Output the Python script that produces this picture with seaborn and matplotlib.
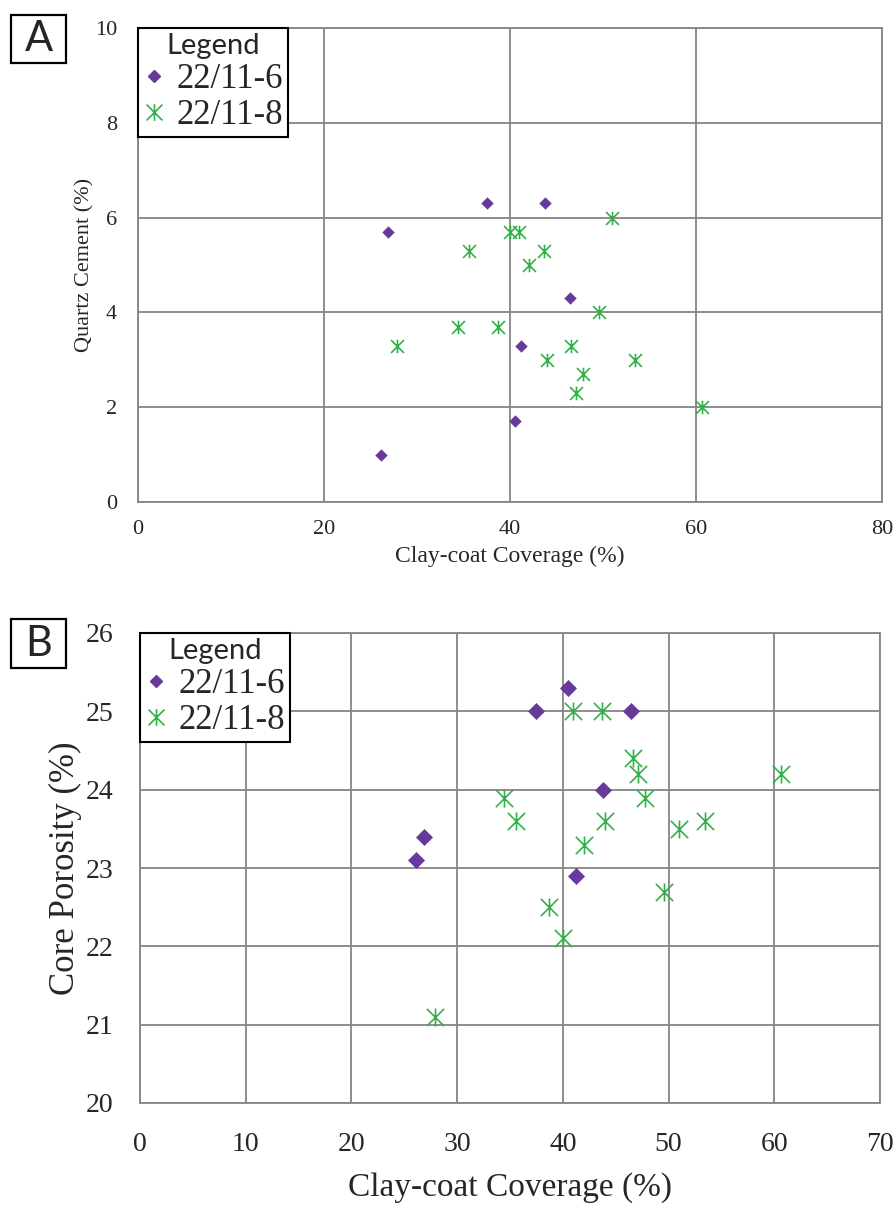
import pandas as pd
import matplotlib
matplotlib.use('Agg')
import matplotlib.pyplot as plt
import seaborn as sns
from matplotlib.path import Path
from matplotlib.lines import Line2D
from matplotlib.patches import Rectangle

# well 22/11-6 samples
clay_6 = [26.1, 26.9, 37.5, 40.5, 41.2, 43.8, 46.4]
quartz_6 = [1.0, 5.7, 6.3, 1.7, 3.3, 6.3, 4.3]
poro_6 = [23.1, 23.4, 25.0, 25.3, 22.9, 24.0, 25.0]

# well 22/11-8 samples
clay_8 = [27.9, 34.4, 35.6, 38.7, 40.0, 41.0, 42.0, 43.7, 44.0, 46.6, 47.1, 47.8, 49.6, 51.0, 53.4, 60.6]
quartz_8 = [3.3, 3.7, 5.3, 3.7, 5.7, 5.7, 5.0, 5.3, 3.0, 3.3, 2.3, 2.7, 4.0, 6.0, 3.0, 2.0]
poro_8 = [21.1, 23.9, 23.6, 22.5, 22.1, 25.0, 23.3, 25.0, 23.6, 24.4, 24.2, 23.9, 22.7, 23.5, 23.6, 24.2]

wells = ['22/11-6', '22/11-8']

df = pd.concat([
    pd.DataFrame({'clay': clay_6, 'quartz': quartz_6, 'poro': poro_6, 'well': wells[0]}),
    pd.DataFrame({'clay': clay_8, 'quartz': quartz_8, 'poro': poro_8, 'well': wells[1]}),
])

purple = '#66399A'
green = '#33B04A'
grid_col = '#858585'

# excel style star: an X with a vertical bar through it
star = Path([(-1, -1), (1, 1), (-1, 1), (1, -1), (0, -1.05), (0, 1.05)],
            [Path.MOVETO, Path.LINETO, Path.MOVETO, Path.LINETO, Path.MOVETO, Path.LINETO])

sns.set_style('white')
plt.rcParams['font.family'] = ['Liberation Serif', 'DejaVu Serif']

fig = plt.figure(figsize=(8.96, 12.08), dpi=100)


def px_axes(left, top, right, bottom):
    W, H = 896, 1208
    return fig.add_axes([left / W, 1 - bottom / H, (right - left) / W, (bottom - top) / H])


def draw_panel(ax, ycol, xmax, xstep, ylim, ystep, d_size, s_size, tick_fs, xlab_fs, ylab_fs,
               xlab_y, ylab_x, ylab, xpad, ypad):
    d6 = df[df['well'] == wells[0]]
    d8 = df[df['well'] == wells[1]]
    sns.scatterplot(data=d6, x='clay', y=ycol, marker='D', color=purple, s=d_size,
                    edgecolor=purple, linewidth=0, ax=ax, zorder=3)
    sns.scatterplot(data=d8, x='clay', y=ycol, marker=star, color=green, s=s_size,
                    edgecolor=green, linewidth=1.2, ax=ax, zorder=3)
    ax.set_xlim(0, xmax)
    ax.set_ylim(*ylim)
    ax.set_xticks(range(0, xmax + 1, xstep))
    yt = []
    v = ylim[0]
    while v <= ylim[1] + 1e-9:
        yt.append(v)
        v += ystep
    ax.set_yticks(yt)
    ax.grid(True, color=grid_col, linewidth=1.3)
    ax.set_axisbelow(True)
    for sp in ax.spines.values():
        sp.set_color(grid_col)
        sp.set_linewidth(1.3)
    ax.tick_params(axis='both', length=0, labelsize=tick_fs)
    ax.tick_params(axis='x', pad=xpad)
    ax.tick_params(axis='y', pad=ypad)
    ax.set_xlabel('Clay-coat Coverage (%)', fontsize=xlab_fs)
    ax.set_ylabel(ylab, fontsize=ylab_fs)
    ax.xaxis.set_label_coords(0.5, xlab_y)
    ax.yaxis.set_label_coords(ylab_x, 0.5)

    handles = [Line2D([], [], marker='D', color=purple, linestyle='none', markersize=6),
               Line2D([], [], marker=star, color=green, linestyle='none', markersize=12,
                      markeredgewidth=1.2)]
    leg = ax.legend(handles, wells, title='Legend', loc='upper left', bbox_to_anchor=(0, 1),
                    borderaxespad=0, fancybox=False, framealpha=1, edgecolor='black',
                    prop={'family': 'Liberation Serif', 'size': 25},
                    title_fontproperties={'family': 'Lato', 'size': 21},
                    handlelength=0.6, handletextpad=0.35, borderpad=0.15, labelspacing=0.1)
    leg.get_frame().set_linewidth(1.5)
    leg.set_zorder(5)


def panel_tag(letter, left, top, right, bottom):
    W, H = 896, 1208
    fig.patches.append(Rectangle((left / W, 1 - bottom / H), (right - left) / W, (bottom - top) / H,
                                 transform=fig.transFigure, fill=False, edgecolor='black',
                                 linewidth=1.6))
    fig.text((left + right) / 2 / W, 1 - (top + bottom) / 2 / H, letter, ha='center', va='center',
             fontsize=30, family='Lato')


axA = px_axes(138, 28, 882, 502)
draw_panel(axA, 'quartz', 80, 20, (0, 10), 2, 40, 95, 16, 17, 16,
           -0.093, -0.058, 'Quartz Cement (%)', 13, 15)

axB = px_axes(140, 633, 880, 1103)
draw_panel(axB, 'poro', 70, 10, (20, 26), 1, 75, 170, 20, 24, 25,
           -0.147, -0.078, 'Core Porosity (%)', 21, 19)

panel_tag('A', 11, 15, 66, 63)
panel_tag('B', 11, 619, 66, 668)

fig.savefig('out.png', dpi=100)
